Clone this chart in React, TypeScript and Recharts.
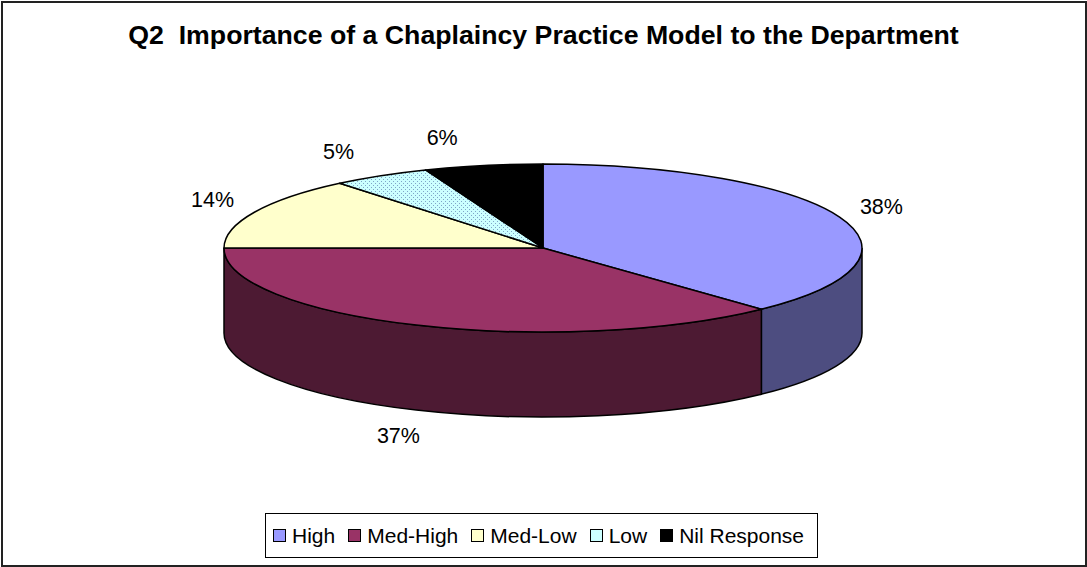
import React from "react";
import { PieChart, Pie, Cell, Legend } from "recharts";

const categories = ["High", "Med-High", "Med-Low", "Low", "Nil Response"];
const shares = [38, 37, 14, 5, 6];
const topColors = ["#9999FF", "#993366", "#FFFFCC", "url(#lowDots)", "#000000"];
const sideColors = ["#4D4D80", "#4D1A33", "#80806A", "#6A8080", "#000000"];
const legendSwatch = ["#9999FF", "#993366", "#FFFFCC", "#CCFFFF", "#000000"];

const data = categories.map((name, i) => ({ name, value: shares[i], idx: i }));

const W = 1087;
const H = 567;
const CX = 543;
const CY = 248;
const RX = 319;
const FLAT = 84 / 319; // vertical squash of the top face
const DEPTH = 85;

const RAD = Math.PI / 180;
const pt = (cx: number, cy: number, rx: number, ry: number, a: number) => [
  cx + rx * Math.cos(a * RAD),
  cy - ry * Math.sin(a * RAD),
];

// one slice of the flattened cylinder: front wall first, then the top face
function Slice3D(props: any) {
  const { cx, cy, outerRadius, startAngle, endAngle, payload } = props;
  const i = payload?.idx ?? props.idx ?? 0;
  const rx = outerRadius;
  const ry = outerRadius * FLAT;
  const lo = Math.min(startAngle, endAngle);
  const hi = Math.max(startAngle, endAngle);

  const walls: string[] = [];
  for (const k of [-2, -1, 0, 1]) {
    const a = Math.max(lo, k * 360 - 180);
    const b = Math.min(hi, k * 360);
    if (b - a > 0.01) {
      const [x1, y1] = pt(cx, cy, rx, ry, a);
      const [x2, y2] = pt(cx, cy, rx, ry, b);
      walls.push(
        `M${x1},${y1} A${rx},${ry} 0 0 0 ${x2},${y2} L${x2},${y2 + DEPTH} A${rx},${ry} 0 0 1 ${x1},${y1 + DEPTH} Z`
      );
    }
  }

  const [sx, sy] = pt(cx, cy, rx, ry, startAngle);
  const [ex, ey] = pt(cx, cy, rx, ry, endAngle);
  const large = Math.abs(endAngle - startAngle) > 180 ? 1 : 0;
  const sweep = endAngle < startAngle ? 1 : 0;
  const top = `M${cx},${cy} L${sx},${sy} A${rx},${ry} 0 ${large} ${sweep} ${ex},${ey} Z`;

  return (
    <g>
      {i === 0 && (
        <defs>
          <pattern id="lowDots" width="4" height="4" patternUnits="userSpaceOnUse">
            <rect width="4" height="4" fill="#CCFFFF" />
            <rect x="1" y="1" width="1" height="1" fill="#7FA6C8" />
            <rect x="3" y="3" width="1" height="1" fill="#7FA6C8" />
          </pattern>
        </defs>
      )}
      {walls.map((d, j) => (
        <path key={j} d={d} fill={sideColors[i]} stroke="#000" strokeWidth={1.5} />
      ))}
      <path d={top} fill={topColors[i]} stroke="#000" strokeWidth={1.5} strokeLinejoin="round" />
    </g>
  );
}

function renderLabel(props: any) {
  const { cx, cy, midAngle, outerRadius, percent } = props;
  const rx = outerRadius;
  const ry = outerRadius * FLAT;
  const s = Math.sin(midAngle * RAD);
  const c = Math.cos(midAngle * RAD);
  const ex = cx + rx * c;
  const ey = cy - ry * s + (s < 0 ? DEPTH : 0);
  // labels near the back rim sit a little further out to the left
  const dx = 45 * c - (s > 0 && c < 0 ? 35 * Math.pow(s, 4) : 0);
  return (
    <text
      x={ex + dx}
      y={ey - 28 * s}
      textAnchor="middle"
      dominantBaseline="central"
      fontFamily="Arial, 'Liberation Sans', sans-serif"
      fontSize={21.5}
      fill="#000"
    >
      {`${Math.round(percent * 100)}%`}
    </text>
  );
}

function LegendBox() {
  return (
    <div
      style={{
        display: "flex",
        alignItems: "center",
        gap: 13,
        border: "1.5px solid #000",
        padding: "0 10px 0 7px",
        width: 553,
        boxSizing: "border-box",
        height: 45,
        background: "#fff",
        fontFamily: "Arial, 'Liberation Sans', sans-serif",
        fontSize: 21,
        color: "#000",
      }}
    >
      {categories.map((c, i) => (
        <div key={c} style={{ display: "flex", alignItems: "center", gap: 6 }}>
          <span
            style={{
              display: "inline-block",
              width: 11,
              height: 11,
              background: legendSwatch[i],
              border: "1.5px solid #000",
            }}
          />
          <span>{c}</span>
        </div>
      ))}
    </div>
  );
}

export default function App() {
  return (
    <div style={{ position: "absolute", left: 0, top: 0, width: W, height: H, background: "#fff" }}>
      <style>{"body{margin:0}"}</style>
      <div
        style={{
          position: "absolute",
          left: 1,
          top: 1,
          width: W - 5,
          height: H - 5,
          border: "2px solid #222",
        }}
      />
      <div
        style={{
          position: "absolute",
          left: 0,
          top: 20,
          width: W,
          textAlign: "center",
          fontFamily: "Arial, 'Liberation Sans', sans-serif",
          fontWeight: "bold",
          fontSize: 26.7,
          color: "#000",
        }}
      >
        Q2&nbsp;&nbsp;Importance of a Chaplaincy Practice Model to the Department
      </div>
      <PieChart
        width={W}
        height={H}
        margin={{ top: 0, right: 0, bottom: 0, left: 0 }}
        style={{ position: "absolute", left: 0, top: 0 }}
      >
        <Pie
          data={data}
          dataKey="value"
          nameKey="name"
          cx={CX}
          cy={CY}
          outerRadius={RX}
          innerRadius={0}
          startAngle={90}
          endAngle={-270}
          stroke="#000"
          shape={Slice3D}
          label={renderLabel}
          labelLine={false}
          isAnimationActive={false}
        >
          {data.map((d, i) => (
            <Cell key={d.name} fill={legendSwatch[i]} />
          ))}
        </Pie>
        <Legend
          content={() => <LegendBox />}
          wrapperStyle={{ position: "absolute", left: 265, top: 513, width: "auto" }}
        />
      </PieChart>
    </div>
  );
}
